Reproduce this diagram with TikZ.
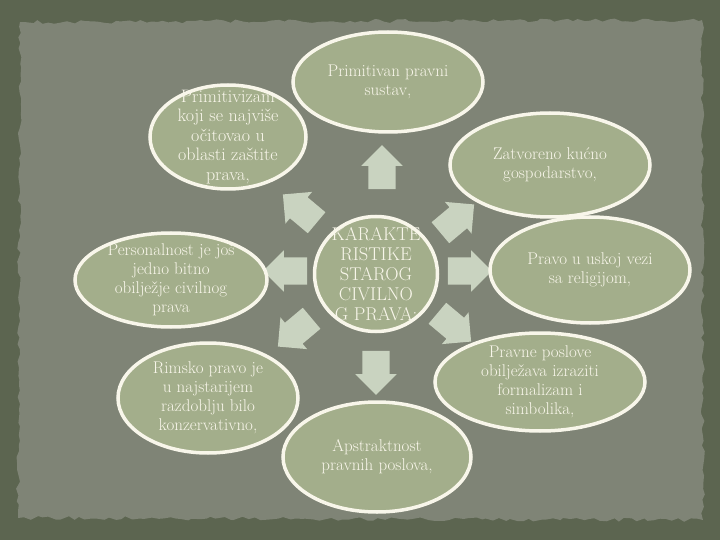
\documentclass[tikz,border=0pt]{standalone}
\usepackage{tikz}
\usetikzlibrary{shapes, shapes.arrows, decorations.pathmorphing}

\definecolor{framegreen}{HTML}{5C6550}
\definecolor{paper}{HTML}{7F8476}
\definecolor{bubblegreen}{HTML}{A3AE8B}
\definecolor{arrowgray}{HTML}{C9D3C0}
\definecolor{cream}{HTML}{F8F6EA}

\begin{document}
\begin{tikzpicture}[x=1pt, y=-1pt]
    % Styles
    \tikzstyle{bubble} = [ellipse, draw=cream, line width=3.5pt, fill=bubblegreen, inner sep=0pt]
    \tikzstyle{bubbletext} = [text=cream, align=center, inner sep=0pt, font=\fontsize{17}{19}\selectfont]
    \tikzstyle{hubtext} = [text=cream, align=center, inner sep=0pt, font=\fontsize{18.5}{20}\selectfont]
    \tikzstyle{fatarrow} = [single arrow, fill=arrowgray, draw=none, inner xsep=0pt, inner ysep=13.5pt, minimum height=44pt, single arrow head extend=7pt]

    % Background
    \useasboundingbox (0,0) rectangle (720,540);
    \fill[framegreen] (0,0) rectangle (720,540);
    \fill[paper, decorate, decoration={random steps, segment length=6pt, amplitude=2pt}] (20,22) -- (702,20) -- (703,520) -- (18,518) -- cycle;

    % Arrows
    \node [fatarrow, rotate=90] (aup) at (382,174) {};
    \node [fatarrow, rotate=40] (aupright) at (452,223) {};
    \node [fatarrow] (aright) at (463,271) {};
    \node [fatarrow, rotate=-40] (adownright) at (449,323) {};
    \node [fatarrow, rotate=-90] (adown) at (376,366) {};
    \node [fatarrow, rotate=-140] (adownleft) at (300,328) {};
    \node [fatarrow, rotate=180] (aleft) at (292,271) {};
    \node [fatarrow, rotate=140] (aupleft) at (305,213) {};

    % Nodes
    \node [bubble, minimum width=123, minimum height=115] (hub) at (376,274) {};
    \node [bubble, minimum width=190, minimum height=100] (sustav) at (388,82) {};
    \node [bubble, minimum width=200, minimum height=104] (gosp) at (550,165) {};
    \node [bubble, minimum width=200, minimum height=106] (religija) at (590,270) {};
    \node [bubble, minimum width=210, minimum height=98] (formal) at (540,382) {};
    \node [bubble, minimum width=188, minimum height=110] (apstrakt) at (377,457) {};
    \node [bubble, minimum width=180, minimum height=110] (rimsko) at (208,398) {};
    \node [bubble, minimum width=192, minimum height=94] (personal) at (171,280) {};
    \node [bubble, minimum width=156, minimum height=104] (primitiv) at (228,137) {};

    % Texts
    \node [hubtext] (hubtxt) at (hub) {KARAKTE\\RISTIKE\\STAROG\\CIVILNO\\G PRAVA:};
    \node [bubbletext] (sustavtxt) at (sustav) {Primitivan pravni\\sustav,};
    \node [bubbletext] (gosptxt) at (gosp) {Zatvoreno kućno\\gospodarstvo,};
    \node [bubbletext] (religijatxt) at (religija) {Pravo u uskoj vezi\\sa religijom,};
    \node [bubbletext] (formaltxt) at (formal) {Pravne poslove\\obilježava izraziti\\formalizam i\\simbolika,};
    \node [bubbletext] (apstrakttxt) at (apstrakt) {Apstraktnost\\pravnih poslova,};
    \node [bubbletext] (rimskotxt) at (rimsko) {Rimsko pravo je\\u najstarijem\\razdoblju bilo\\konzervativno,};
    \node [bubbletext] (personaltxt) at (personal) {Personalnost je još\\jedno bitno\\obilježje civilnog\\prava};
    \node [bubbletext, font=\fontsize{18}{19.5}\selectfont] (primitivtxt) at (primitiv) {Primitivizam\\koji se najviše\\očitovao u\\oblasti zaštite\\prava,};

\end{tikzpicture}
\end{document}
